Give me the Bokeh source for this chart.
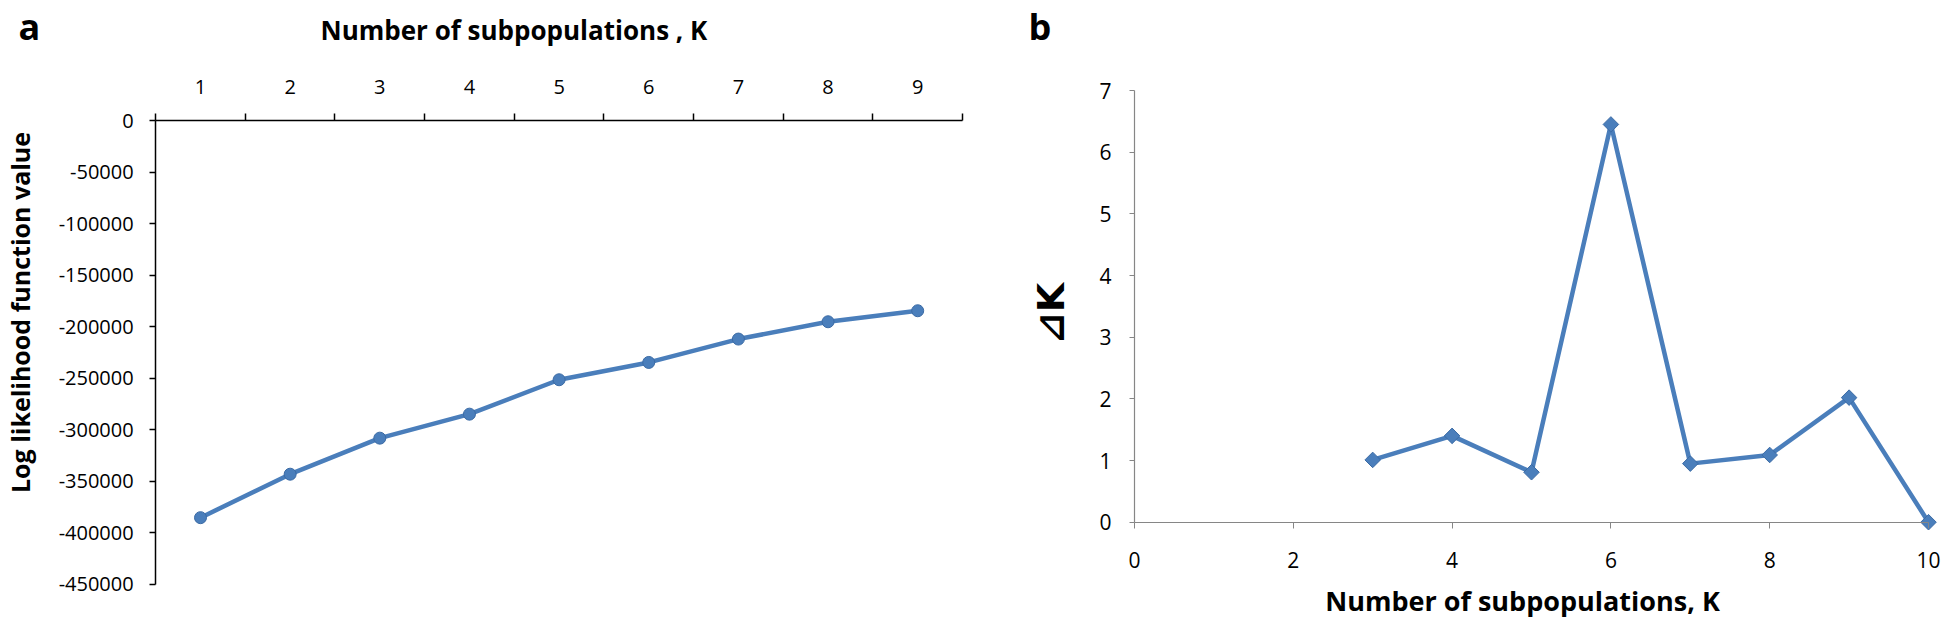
import math
from bokeh.plotting import figure
from bokeh.models import Range1d, FixedTicker, PrintfTickFormatter, Label
from bokeh.layouts import row
from bokeh.embed import file_html
from bokeh.resources import INLINE

# ---------------- data ----------------
# panel a: log likelihood vs K
k_a = [1, 2, 3, 4, 5, 6, 7, 8, 9]
loglik = [-385600, -343400, -308400, -285100, -251700, -234900, -212200, -195400, -184700]
y_ticks_a = [0, -50000, -100000, -150000, -200000, -250000, -300000, -350000, -400000, -450000]

# panel b: delta K vs K
k_b = [3, 4, 5, 6, 7, 8, 9, 10]
delta_k = [1.01, 1.40, 0.81, 6.45, 0.95, 1.09, 2.02, 0.0]
x_ticks_b = [0, 2, 4, 6, 8, 10]
y_ticks_b = [0, 1, 2, 3, 4, 5, 6, 7]

BLUE = "#4A7EBB"
EDGE = "#3B6BA5"
FONT = "Open Sans"
H = 620

# ---------------- panel a ----------------
WA = 1000
ua = 89.65          # px per K
va = 51.5 / 50000   # px per likelihood unit
xa0 = 1 - 200 / ua
ya_top = 120 / va
def ax_(px):
    return xa0 + px / ua
def ay_(py):
    return ya_top - py / va

pa = figure(width=WA, height=H, x_range=Range1d(ax_(0), ax_(WA)), y_range=Range1d(ay_(H), ay_(0)),
            x_axis_location="above", output_backend="svg", toolbar_location=None, title=None,
            min_border=0)
pa.outline_line_color = None
pa.xgrid.visible = False
pa.ygrid.visible = False

xa = pa.xaxis[0]
xa.fixed_location = 0
xa.bounds = (k_a[0] - 0.5, k_a[-1] + 0.5)
xa.ticker = FixedTicker(ticks=k_a, minor_ticks=[k - 0.5 for k in k_a] + [k_a[-1] + 0.5])
xa.major_tick_out = 0
xa.major_tick_in = 0
xa.minor_tick_out = 7
xa.minor_tick_in = 0
xa.minor_tick_line_color = "black"
xa.minor_tick_line_width = 1.5
xa.axis_line_color = "black"
xa.axis_line_width = 1.5
xa.major_label_text_font = FONT
xa.major_label_text_font_size = "20px"
xa.major_label_text_color = "black"
xa.major_label_standoff = 20

ya = pa.yaxis[0]
ya.fixed_location = k_a[0] - 0.5
ya.bounds = (y_ticks_a[-1], y_ticks_a[0])
ya.ticker = FixedTicker(ticks=y_ticks_a)
ya.formatter = PrintfTickFormatter(format="%d")
ya.major_tick_out = 6
ya.major_tick_in = 0
ya.major_tick_line_width = 1.5
ya.major_tick_line_color = "black"
ya.minor_tick_line_color = None
ya.axis_line_color = "black"
ya.axis_line_width = 1.5
ya.major_label_text_font = FONT
ya.major_label_text_font_size = "20px"
ya.major_label_text_color = "black"
ya.major_label_standoff = 16

pa.line(k_a, loglik, line_color=BLUE, line_width=4.5)
pa.scatter(k_a, loglik, marker="circle", size=12, fill_color=BLUE, line_color=EDGE, line_width=1)

pa.add_layout(Label(x=ax_(18), y=ay_(1), text="a",
                    text_font=FONT, text_font_style="bold", text_font_size="36px",
                    text_align="left", text_baseline="top", text_color="black"))
pa.add_layout(Label(x=ax_(320), y=ay_(29), text="Number of subpopulations , K",
                    text_font=FONT, text_font_style="bold", text_font_size="26px",
                    text_align="left", text_baseline="alphabetic", text_color="black"))
pa.add_layout(Label(x=ax_(19), y=ay_(312), text="Log likelihood function value", angle=math.pi / 2,
                    text_font=FONT, text_font_style="bold", text_font_size="25px",
                    text_align="center", text_baseline="middle", text_color="black"))

# ---------------- panel b ----------------
WB = 944
ub = 79.4     # px per K
vb = 61.67    # px per delta K unit
xb0 = -134 / ub
yb_top = 521.7 / vb
def bx_(px):
    return xb0 + px / ub
def by_(py):
    return yb_top - py / vb

pb = figure(width=WB, height=H, x_range=Range1d(bx_(0), bx_(WB)), y_range=Range1d(by_(H), by_(0)),
            output_backend="svg", toolbar_location=None, title=None, min_border=0)
pb.outline_line_color = None
pb.xgrid.visible = False
pb.ygrid.visible = False

GRAY = "#868686"
xb = pb.xaxis[0]
xb.fixed_location = 0
xb.bounds = (x_ticks_b[0], x_ticks_b[-1])
xb.ticker = FixedTicker(ticks=x_ticks_b)
xb.major_tick_out = 6
xb.major_tick_in = 0
xb.minor_tick_line_color = None
xb.major_tick_line_color = GRAY
xb.axis_line_color = GRAY
xb.axis_line_width = 1.2
xb.major_label_text_font = FONT
xb.major_label_text_font_size = "21px"
xb.major_label_text_color = "black"
xb.major_label_standoff = 24

yb = pb.yaxis[0]
yb.fixed_location = 0
yb.bounds = (y_ticks_b[0], y_ticks_b[-1])
yb.ticker = FixedTicker(ticks=y_ticks_b)
yb.major_tick_out = 5
yb.major_tick_in = 0
yb.minor_tick_line_color = None
yb.major_tick_line_color = GRAY
yb.axis_line_color = GRAY
yb.axis_line_width = 1.2
yb.major_label_text_font = FONT
yb.major_label_text_font_size = "21px"
yb.major_label_text_color = "black"
yb.major_label_standoff = 18

pb.line(k_b, delta_k, line_color=BLUE, line_width=4.5)
pb.scatter(k_b, delta_k, marker="square", angle=math.pi / 4, size=11,
           fill_color=BLUE, line_color=EDGE, line_width=1)

pb.add_layout(Label(x=bx_(28), y=by_(1), text="b",
                    text_font=FONT, text_font_style="bold", text_font_size="36px",
                    text_align="left", text_baseline="top", text_color="black"))
pb.add_layout(Label(x=bx_(50), y=by_(313), text="\u22bfK", angle=math.pi / 2,
                    text_font="DejaVu Sans", text_font_style="bold", text_font_size="38px",
                    text_align="center", text_baseline="middle", text_color="black"))
pb.add_layout(Label(x=bx_(522), y=by_(600), text="Number of subpopulations, K",
                    text_font=FONT, text_font_style="bold", text_font_size="27px",
                    text_align="center", text_baseline="alphabetic", text_color="black"))

layout = row(pa, pb)
open("out.html", "w").write(file_html(layout, INLINE))
